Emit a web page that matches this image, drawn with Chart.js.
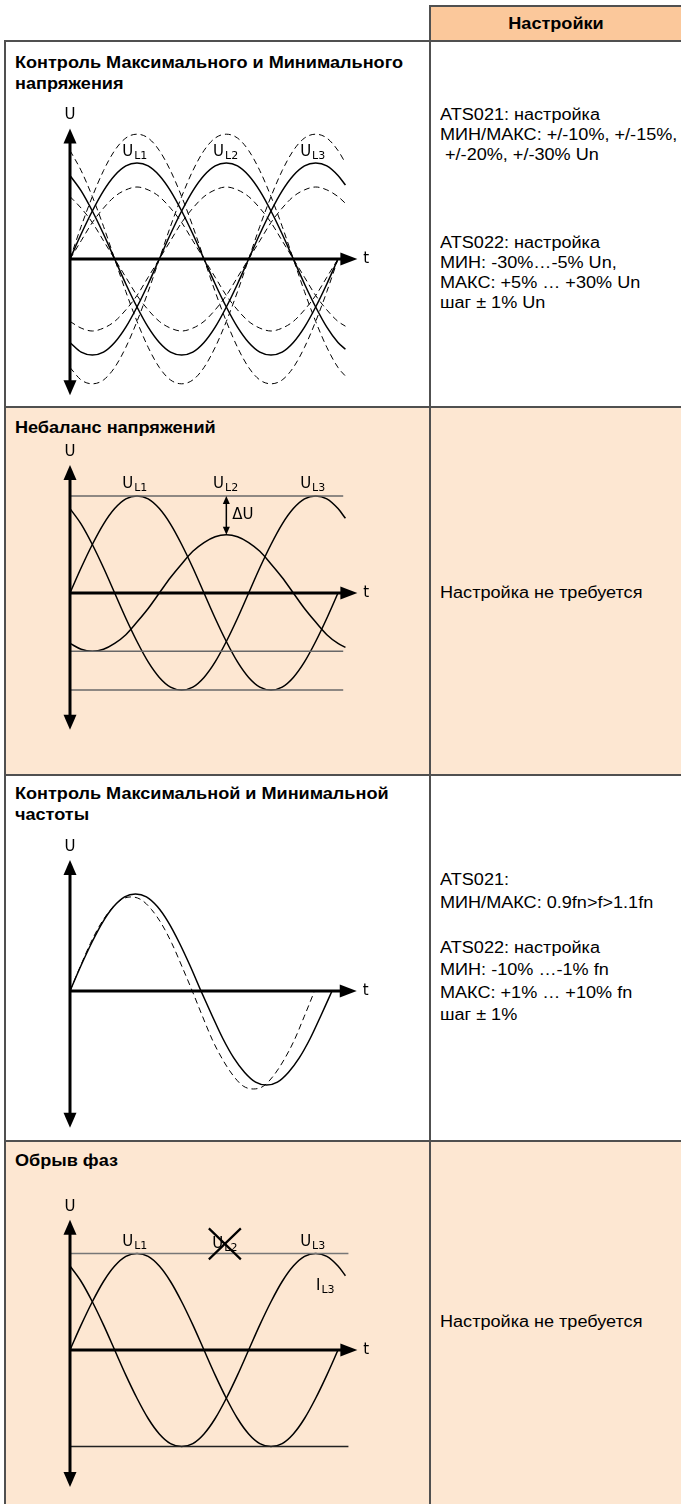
<!DOCTYPE html>
<html lang="ru">
<head>
<meta charset="utf-8">
<title>Контроль напряжения и частоты</title>
<script src="https://cdn.jsdelivr.net/npm/chart.js@4.4.1/dist/chart.umd.min.js"></script>
<style>
  html, body { margin: 0; padding: 0; background: #fff; }
  #page { position: relative; width: 681px; height: 1504px; overflow: hidden; font-family: "Liberation Sans", Arial, sans-serif; color: #000; }
  .cell { position: absolute; box-sizing: border-box; border-top: 2px solid #505050; border-left: 2px solid #505050; }
  .peach { background: #fde7d2; }
  .head { background: #fbc89b; }
  .txt { position: absolute; white-space: nowrap; font-size: 16px; line-height: 20px; transform: scaleX(1.13); transform-origin: 0 0; }
  .title { font-weight: bold; line-height: 21px; }
  .wide { line-height: 22.5px; }
  canvas { position: absolute; }
</style>
</head>
<body>
<div id="page">
  <div class="cell head" style="left:429px;top:5px;width:260px;height:37px"></div>
  <div class="txt title" style="left:431px;top:13px;width:250px;text-align:center;transform-origin:50% 0">Настройки</div>

  <div class="cell" style="left:4px;top:40px;width:427px;height:368px"></div>
  <div class="cell" style="left:429px;top:40px;width:260px;height:368px"></div>
  <div class="cell peach" style="left:4px;top:406px;width:427px;height:370px"></div>
  <div class="cell peach" style="left:429px;top:406px;width:260px;height:370px"></div>
  <div class="cell" style="left:4px;top:774px;width:427px;height:368px"></div>
  <div class="cell" style="left:429px;top:774px;width:260px;height:368px"></div>
  <div class="cell peach" style="left:4px;top:1140px;width:427px;height:380px"></div>
  <div class="cell peach" style="left:429px;top:1140px;width:260px;height:380px"></div>

  <div class="txt title" style="left:15px;top:52px">Контроль Максимального и Минимального<br>напряжения</div>
  <div class="txt" style="left:440px;top:105px">ATS021: настройка<br>МИН/МАКС: +/-10%, +/-15%,<br>&nbsp;+/-20%, +/-30% Un</div>
  <div class="txt" style="left:440px;top:233px">ATS022: настройка<br>МИН: -30%…-5% Un,<br>МАКС: +5% … +30% Un<br>шаг ± 1% Un</div>

  <div class="txt title" style="left:15px;top:417px">Небаланс напряжений</div>
  <div class="txt" style="left:440px;top:583px">Настройка не требуется</div>

  <div class="txt title" style="left:15px;top:783px">Контроль Максимальной и Минимальной<br>частоты</div>
  <div class="txt wide" style="left:440px;top:869px">ATS021:<br>МИН/МАКС: 0.9fn&gt;f&gt;1.1fn<br><br>ATS022: настройка<br>МИН: -10% …-1% fn<br>МАКС: +1% … +10% fn<br>шаг ± 1%</div>

  <div class="txt title" style="left:15px;top:1150px">Обрыв фаз</div>
  <div class="txt" style="left:440px;top:1312px">Настройка не требуется</div>
</div>
<script>
// фазовый угол, градусы (L2 и L3 чуть заходят за период)
const angles = [0, 15, 30, 45, 60, 75, 90, 105, 120, 135, 150, 165, 180, 195, 210, 225, 240, 255, 270, 285, 300, 315, 330, 345, 360, 370];

// напряжения фаз, % Un
const uL1 = [0, 26, 50, 71, 87, 97, 100, 97, 87, 71, 50, 26, 0, -26, -50, -71, -87, -97, -100, -97, -87, -71, -50, -26, 0];
const uL2 = [-87, -97, -100, -97, -87, -71, -50, -26, 0, 26, 50, 71, 87, 97, 100, 97, 87, 71, 50, 26, 0, -26, -50, -71, -87, -94];
const uL3 = [87, 71, 50, 26, 0, -26, -50, -71, -87, -97, -100, -97, -87, -71, -50, -26, 0, 26, 50, 71, 87, 97, 100, 97, 87, 77];

// пороги МАКС (+30%) и МИН (-25%)
const maxL1 = [0, 34, 65, 92, 113, 126, 130, 126, 113, 92, 65, 34, 0, -34, -65, -92, -113, -126, -130, -126, -113, -92, -65, -34, 0];
const maxL2 = [-113, -126, -130, -126, -113, -92, -65, -34, 0, 34, 65, 92, 113, 126, 130, 126, 113, 92, 65, 34, 0, -34, -65, -92, -113, -122];
const maxL3 = [113, 92, 65, 34, 0, -34, -65, -92, -113, -126, -130, -126, -113, -92, -65, -34, 0, 34, 65, 92, 113, 126, 130, 126, 113, 100];
const minL1 = [0, 19, 38, 53, 65, 72, 75, 72, 65, 53, 38, 19, 0, -19, -38, -53, -65, -72, -75, -72, -65, -53, -38, -19, 0];
const minL2 = [-65, -72, -75, -72, -65, -53, -38, -19, 0, 19, 38, 53, 65, 72, 75, 72, 65, 53, 38, 19, 0, -19, -38, -53, -65, -70];
const minL3 = [65, 53, 38, 19, 0, -19, -38, -53, -65, -72, -75, -72, -65, -53, -38, -19, 0, 19, 38, 53, 65, 72, 75, 72, 65, 58];

// небаланс: просевшая фаза L2
const lowL2 = [-52, -58, -60, -58, -52, -43, -30, -16, 0, 16, 30, 43, 52, 58, 60, 58, 52, 43, 30, 16, 0, -16, -30, -43, -52, -56];
const balanceLevels = [100, -60, -100];
const balanceSpan = [0, 367];
const deltaAt = 210;
const deltaRange = [100, 60];

// частота: номинал и повышенная частота
const freqNominal = [0, 26, 50, 71, 87, 97, 100, 97, 87, 71, 50, 26, 0, -25, -49, -69, -84, -94, -97, -94, -84, -69, -49, -25, 0];
const fastTime = [0, 14, 28, 42, 56, 70, 84, 98, 112, 126, 140, 154, 168, 182, 196, 210, 224, 238, 252, 266, 280, 294, 308, 322, 336];
const freqHigh = [0, 25, 49, 69, 84, 94, 97, 94, 84, 69, 49, 25, 0, -26, -51, -71, -87, -98, -101, -98, -87, -71, -51, -26, 0];

// обрыв фазы
const lossLevels = [100, -100];
const lossSpan = [0, 374];

const page = document.getElementById('page');
const FONT = '"DejaVu Sans", sans-serif';

function curve(xs, ys, dashed) {
    return {
        data: ys.map((y, i) => ({ x: xs[i], y })),
        borderColor: '#000',
        borderWidth: dashed ? 1 : 1.5,
        borderDash: dashed ? [6, 4] : [],
        cubicInterpolationMode: 'monotone',
        pointRadius: 0,
        fill: false
    };
}

function level(span, v, color) {
    return {
        data: [{ x: span[0], y: v }, { x: span[1], y: v }],
        borderColor: color,
        borderWidth: 1.5,
        pointRadius: 0,
        fill: false
    };
}

function tri(ctx, a, b, c) {
    ctx.beginPath();
    ctx.moveTo(a[0], a[1]); ctx.lineTo(b[0], b[1]); ctx.lineTo(c[0], c[1]);
    ctx.closePath();
    ctx.fill();
}

// оси со стрелками, подписи фаз, стрелка ΔU
const schematic = {
    id: 'schematic',
    afterDatasetsDraw(chart, args, o) {
        const { ctx } = chart;
        const sx = chart.scales.x, sy = chart.scales.y;
        const px = v => sx.getPixelForValue(v), py = v => sy.getPixelForValue(v);
        const x0 = px(0), y0 = py(0);
        const top = py(o.axis.top), bottom = py(o.axis.bottom), end = px(o.axis.end);
        ctx.save();
        ctx.fillStyle = '#000';
        ctx.strokeStyle = '#000';
        ctx.lineWidth = 3;
        ctx.beginPath();
        ctx.moveTo(x0, top + 12); ctx.lineTo(x0, bottom - 12);
        ctx.moveTo(x0 - 1.5, y0); ctx.lineTo(end - 14, y0);
        ctx.stroke();
        tri(ctx, [x0, top], [x0 - 6.5, top + 15], [x0 + 6.5, top + 15]);
        tri(ctx, [x0, bottom], [x0 - 6.5, bottom - 15], [x0 + 6.5, bottom - 15]);
        tri(ctx, [end, y0], [end - 17, y0 - 6.5], [end - 17, y0 + 6.5]);

        ctx.font = '15px ' + FONT;
        ctx.textBaseline = 'middle';
        ctx.textAlign = 'center';
        ctx.fillText('U', x0, top - 13);
        ctx.textAlign = 'left';
        ctx.fillText('t', end + 6, y0);

        (o.labels || []).forEach(l => {
            ctx.font = '15px ' + FONT;
            const wm = ctx.measureText(l.main).width;
            ctx.font = '11px ' + FONT;
            const ws = ctx.measureText(l.sub).width;
            const cx = px(l.x), cy = py(l.y);
            const left = cx - (wm + ws + 1) / 2;
            ctx.font = '15px ' + FONT;
            ctx.fillText(l.main, left, cy);
            ctx.font = '11px ' + FONT;
            ctx.fillText(l.sub, left + wm + 1, cy + 4);
            if (l.struck) {
                ctx.lineWidth = 2.2;
                ctx.beginPath();
                ctx.moveTo(cx - 16, cy - 15.5); ctx.lineTo(cx + 16, cy + 15.5);
                ctx.moveTo(cx - 16, cy + 15.5); ctx.lineTo(cx + 16, cy - 15.5);
                ctx.stroke();
            }
        });

        if (o.delta) {
            const dx = px(o.delta.at), y1 = py(o.delta.range[0]), y2 = py(o.delta.range[1]);
            ctx.lineWidth = 1.5;
            ctx.beginPath();
            ctx.moveTo(dx, y1 + 6); ctx.lineTo(dx, y2 - 6);
            ctx.stroke();
            tri(ctx, [dx, y1], [dx - 3.5, y1 + 8], [dx + 3.5, y1 + 8]);
            tri(ctx, [dx, y2], [dx - 3.5, y2 - 8], [dx + 3.5, y2 - 8]);
            ctx.font = '15px ' + FONT;
            ctx.fillText('\u0394U', dx + 6, (y1 + y2) / 2);
        }
        ctx.restore();
    }
};

function makeChart(frame, datasets, extras) {
    const cv = document.createElement('canvas');
    cv.width = frame.w;
    cv.height = frame.h;
    cv.style.left = frame.left + 'px';
    cv.style.top = frame.top + 'px';
    cv.style.width = frame.w + 'px';
    cv.style.height = frame.h + 'px';
    page.appendChild(cv);
    return new Chart(cv, {
        type: 'line',
        data: { datasets },
        options: {
            responsive: false,
            animation: false,
            devicePixelRatio: 1,
            layout: { padding: 0 },
            scales: {
                x: { type: 'linear', display: false,
                     min: -(frame.x0 - frame.left) / frame.kx,
                     max: (frame.left + frame.w - frame.x0) / frame.kx },
                y: { type: 'linear', display: false,
                     min: -(frame.top + frame.h - frame.y0) / frame.ky,
                     max: (frame.y0 - frame.top) / frame.ky }
            },
            plugins: { legend: { display: false }, tooltip: { enabled: false }, schematic: extras }
        },
        plugins: [schematic]
    });
}

const phaseLabels = yv => [
    { main: 'U', sub: 'L1', x: 87, y: yv },
    { main: 'U', sub: 'L2', x: 209, y: yv },
    { main: 'U', sub: 'L3', x: 326, y: yv }
];

// 1. макс/мин напряжение
makeChart({ left: 40, top: 100, w: 360, h: 302, x0: 70, y0: 259, kx: 268 / 360, ky: 0.96 }, [
    curve(angles, uL1), curve(angles, uL2), curve(angles, uL3),
    curve(angles, maxL1, true), curve(angles, maxL2, true), curve(angles, maxL3, true),
    curve(angles, minL1, true), curve(angles, minL2, true), curve(angles, minL3, true)
], { axis: { top: 136, bottom: -142, end: 386 }, labels: phaseLabels(111) });

// 2. небаланс
makeChart({ left: 40, top: 440, w: 360, h: 300, x0: 70, y0: 593, kx: 268 / 360, ky: 0.97 }, [
    ...balanceLevels.map(v => level(balanceSpan, v, '#686868')),
    curve(angles, uL1), curve(angles, lowL2), curve(angles, uL3)
], { axis: { top: 132, bottom: -141, end: 386 }, labels: phaseLabels(112),
     delta: { at: deltaAt, range: deltaRange } });

// 3. частота
makeChart({ left: 40, top: 835, w: 360, h: 300, x0: 70, y0: 991, kx: 262 / 360, ky: 0.97 }, [
    curve(angles, freqNominal), curve(fastTime, freqHigh, true)
], { axis: { top: 135, bottom: -141, end: 394 } });

// 4. обрыв фазы
makeChart({ left: 40, top: 1195, w: 360, h: 300, x0: 70, y0: 1350, kx: 268 / 360, ky: 0.965 }, [
    level(lossSpan, lossLevels[0], '#777'), level(lossSpan, lossLevels[1], '#222'),
    curve(angles, uL1), curve(angles, uL3)
], { axis: { top: 135, bottom: -142, end: 386 },
     labels: [
         { main: 'U', sub: 'L1', x: 87, y: 112 },
         { main: 'U', sub: 'L2', x: 208, y: 110, struck: true },
         { main: 'U', sub: 'L3', x: 326, y: 112 },
         { main: 'I', sub: 'L3', x: 343, y: 66 }
     ] });
</script>
</body>
</html>
